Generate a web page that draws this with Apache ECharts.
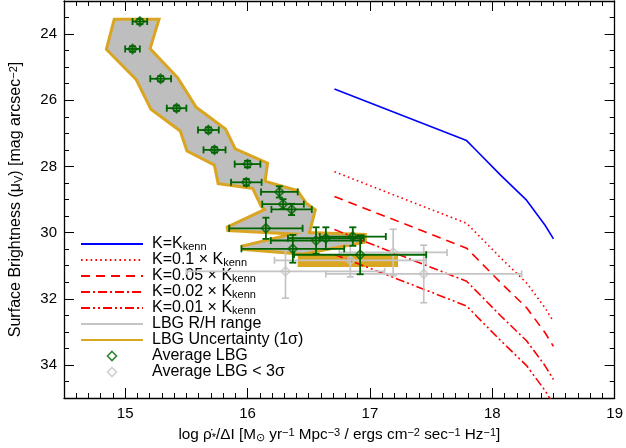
<!DOCTYPE html>
<html><head><meta charset="utf-8">
<script src="https://cdn.jsdelivr.net/npm/echarts@6/dist/echarts.min.js"></script>
<style>html,body{margin:0;padding:0;background:#fff}#c{width:626px;height:448px}</style>
</head><body><div id="c"></div>
<script>
// ---- model curves (K = star-formation efficiency) ----
const modelX = [16.71, 17.79, 17.87, 18.07, 18.28, 18.43, 18.50];
const kKenn  = [25.66, 27.22, 27.52, 28.27, 29.02, 29.77, 30.19];
const k010   = [28.16, 29.72, 30.02, 30.77, 31.52, 32.27, 32.69];
const k005   = [28.91, 30.47, 30.77, 31.52, 32.27, 33.02, 33.44];
const k002   = [29.91, 31.47, 31.77, 32.52, 33.27, 34.02, 34.44];
const k001   = [30.66, 32.22, 32.52, 33.27, 34.02, 34.77, 35.19];

// ---- Average LBG points ----
const lbgX    = [15.12, 15.06, 15.29, 15.42, 15.68, 15.73, 16.00, 15.99, 16.26, 16.29, 16.36, 16.15, 16.37, 16.56, 16.64, 16.86, 16.92];
const lbgY    = [23.62, 24.45, 25.35, 26.24, 26.90, 27.50, 27.93, 28.48, 28.77, 29.14, 29.30, 29.87, 30.49, 30.24, 30.17, 30.12, 30.67];
const lbgXErr = [0.06, 0.06, 0.085, 0.08, 0.085, 0.09, 0.105, 0.125, 0.15, 0.17, 0.165, 0.30, 0.42, 0.37, 0.31, 0.27, 0.54];
const lbgYErr = [0.08, 0.08, 0.08, 0.08, 0.08, 0.08, 0.1, 0.1, 0.17, 0.15, 0.17, 0.32, 0.42, 0.40, 0.33, 0.28, 0.59];

// ---- Average LBG < 3 sigma ----
const faintX    = [16.31, 17.44, 16.84, 17.19];
const faintY    = [31.17, 31.25, 30.84, 30.60];
const faintXErr = [0.81, 0.80, 0.62, 0.44];
const faintYErr = [0.81, 0.87, 0.50, 0.70];

// ---- LBG band (R/H range with 1 sigma uncertainty): left edge top->bottom, right edge top->bottom ----
const bandLeftY  = [23.60, 24.45, 25.35, 26.24, 26.90, 27.50, 27.93, 28.48, 28.62, 29.17, 29.32, 29.89, 30.01, 30.46, 30.61];
const bandLeftX  = [14.92, 14.86, 15.10, 15.22, 15.46, 15.515, 15.74, 15.77, 16.05, 16.12, 16.16, 15.83, 16.45, 15.95, 16.45];
const bandRightY = [23.60, 24.45, 25.35, 26.24, 26.90, 27.50, 27.93, 28.48, 28.77, 29.14, 29.33, 30.04, 30.10, 30.25];
const bandRightX = [15.26, 15.19, 15.42, 15.57, 15.81, 15.89, 16.15, 16.13, 16.40, 16.47, 16.54, 16.49, 16.95, 16.95];
const boxX = [16.41, 17.23];
const boxY = [30.67, 31.04];

const GREEN = '#006400', GRAYP = '#c4c4c4', ORANGE = '#daa520', BANDGRAY = '#bebebe';
const FONT = 'Liberation Sans, Arial, sans-serif';

const legendLabels = {
  'kk':  'K=K{s|kenn}',
  'k1':  'K=0.1 × K{s|kenn}',
  'k05': 'K=0.05 × K{s|kenn}',
  'k02': 'K=0.02 × K{s|kenn}',
  'k01': 'K=0.01 × K{s|kenn}',
  'rh':  'LBG R/H range',
  'unc': 'LBG Uncertainty (1σ)',
  'avg': 'Average LBG',
  'avg3':'Average LBG < 3σ'
};

function pairs(xs, ys) { return xs.map((x, i) => [x, ys[i]]); }

function bandPoints(api) {
  const pts = [];
  for (let i = 0; i < bandLeftY.length; i++) pts.push(api.coord([bandLeftX[i], bandLeftY[i]]));
  for (let i = bandRightY.length - 1; i >= 0; i--) pts.push(api.coord([bandRightX[i], bandRightY[i]]));
  return pts;
}

function errRender(color, cap, lw) {
  return function (params, api) {
    const x = api.value(0), y = api.value(1), ex = api.value(2), ey = api.value(3);
    const l = api.coord([x - ex, y]), r = api.coord([x + ex, y]);
    const t = api.coord([x, y - ey]), b = api.coord([x, y + ey]);
    const st = { stroke: color, lineWidth: lw };
    const ln = (x1, y1, x2, y2) => ({ type: 'line', shape: { x1, y1, x2, y2 }, style: st });
    return { type: 'group', children: [
      ln(l[0], l[1], r[0], r[1]),
      ln(l[0], l[1] - cap, l[0], l[1] + cap),
      ln(r[0], r[1] - cap, r[0], r[1] + cap),
      ln(t[0], t[1], b[0], b[1]),
      ln(t[0] - cap, t[1], t[0] + cap, t[1]),
      ln(b[0] - cap, b[1], b[0] + cap, b[1])
    ]};
  };
}

const chart = echarts.init(document.getElementById('c'), null, { renderer: 'canvas' });

const tickLabel = { fontFamily: FONT, fontSize: 15, color: '#000' };
const frameLine = { show: true, lineStyle: { color: '#000', width: 1.3 } };

function xAx(pos, minor, labels) {
  const a = { type: 'value', position: pos, min: 14.5, max: 19, gridIndex: 0,
    axisLine: minor ? { show: false } : frameLine,
    axisTick: { show: true, inside: true, length: minor ? 5 : 10, lineStyle: { color: '#000', width: 1 } },
    axisLabel: labels ? Object.assign({ show: true, margin: 8, showMinLabel: false }, tickLabel) : { show: false },
    splitLine: { show: false } };
  if (minor) a.interval = 0.1;
  return a;
}
function yAx(pos, minor, labels) {
  const a = { type: 'value', position: pos, min: 23, max: 35, inverse: true, gridIndex: 0,
    axisLine: minor ? { show: false } : frameLine,
    axisTick: { show: true, inside: true, length: minor ? 5 : 10, lineStyle: { color: '#000', width: 1 } },
    axisLabel: labels ? Object.assign({ show: true, margin: 7, showMinLabel: false, showMaxLabel: false }, tickLabel) : { show: false },
    splitLine: { show: false } };
  if (minor) a.interval = 0.5;
  return a;
}

const richTitle = { sub: { fontSize: 11, lineHeight: 8, verticalAlign: 'bottom' }, sup: { fontSize: 11, lineHeight: 8, verticalAlign: 'top' } };

const xAxes = [xAx('bottom', false, true), xAx('bottom', true, false), xAx('top', false, false), xAx('top', true, false)];
xAxes[0].name = 'log ρ̇{sub|*}/ΔI [M{sub|⊙} yr{sup|−1} Mpc{sup|−3} / ergs cm{sup|−2} sec{sup|−1} Hz{sup|−1}]';
xAxes[0].nameLocation = 'middle';
xAxes[0].nameGap = 29;
xAxes[0].nameTextStyle = { fontFamily: FONT, fontSize: 15.3, color: '#000', lineHeight: 16, rich: richTitle };

const yAxes = [yAx('left', false, true), yAx('left', true, false), yAx('right', false, false), yAx('right', true, false)];
yAxes[0].name = 'Surface Brightness (μ{sub|V}) [mag arcsec{sup|−2}]';
yAxes[0].nameLocation = 'middle';
yAxes[0].nameGap = 40;
yAxes[0].nameRotate = 90;
yAxes[0].nameTextStyle = { fontFamily: FONT, fontSize: 16, color: '#000', lineHeight: 16, rich: richTitle };

function modelSeries(name, ys, color, type, width) {
  return { name, type: 'line', data: pairs(modelX, ys), symbol: 'none', smooth: false, z: 4,
    lineStyle: { color, width, type, cap: 'butt' }, itemStyle: { color }, clip: true, silent: true };
}

const hideSym = { opacity: 0 };
const DIAMOND = 'path://M5,0L10,5L5,10L0,5Z';

const option = {
  animation: false,
  backgroundColor: '#fff',
  grid: { left: 56, right: 10, top: 1, bottom: 45, containLabel: false },
  xAxis: xAxes,
  yAxis: yAxes,
  legend: {
    orient: 'vertical', left: 80, top: 236, padding: 0, itemGap: 0,
    itemWidth: 62, itemHeight: 9, selectedMode: false, symbolKeepAspect: true,
    textStyle: { fontFamily: FONT, fontSize: 16, color: '#000', lineHeight: 16, padding: [0, 0, 0, 4],
      rich: { s: { fontSize: 11, lineHeight: 8, verticalAlign: 'bottom' } } },
    formatter: n => legendLabels[n],
    data: [
      { name: 'kk', itemStyle: hideSym }, { name: 'k1', itemStyle: hideSym }, { name: 'k05', itemStyle: hideSym },
      { name: 'k02', itemStyle: hideSym }, { name: 'k01', itemStyle: hideSym },
      { name: 'rh', icon: 'path://M0,0H62V2H0Z' },
      { name: 'unc', icon: 'path://M0,0H62V2H0Z' },
      { name: 'avg', icon: DIAMOND, itemStyle: { color: 'rgba(255,255,255,0)', borderColor: GREEN, borderWidth: 1.6 } },
      { name: 'avg3', icon: DIAMOND, itemStyle: { color: 'rgba(255,255,255,0)', borderColor: GRAYP, borderWidth: 1.6 } }
    ]
  },
  series: [
    { name: 'unc', type: 'custom', z: 1, clip: true, silent: true,
      itemStyle: { color: ORANGE },
      data: [[bandLeftX[0], bandLeftY[0]]],
      renderItem: function (params, api) {
        const pts = bandPoints(api);
        const b0 = api.coord([boxX[0], boxY[0]]), b1 = api.coord([boxX[1], boxY[1]]);
        return { type: 'group', children: [
          { type: 'polygon', shape: { points: pts }, style: { fill: ORANGE, stroke: ORANGE, lineWidth: 6, lineJoin: 'miter', miterLimit: 3 } },
          { type: 'rect', shape: { x: b0[0], y: b0[1], width: b1[0] - b0[0], height: b1[1] - b0[1] }, style: { fill: ORANGE } }
        ]};
      } },
    { name: 'rh', type: 'custom', z: 2, clip: true, silent: true,
      itemStyle: { color: GRAYP },
      data: [[bandLeftX[0], bandLeftY[0]]],
      renderItem: function (params, api) {
        return { type: 'polygon', shape: { points: bandPoints(api) }, style: { fill: BANDGRAY } };
      } },
    modelSeries('kk', kKenn, '#0000ff', 'solid', 1.6),
    modelSeries('k1', k010, '#ff0000', [1.6, 3.2], 1.6),
    modelSeries('k05', k005, '#ff0000', [9, 6], 1.6),
    modelSeries('k02', k002, '#ff0000', [9, 3, 2, 3], 1.6),
    modelSeries('k01', k001, '#ff0000', [9, 3, 2, 3, 2, 3], 1.6),
    { name: 'avg3err', type: 'custom', z: 5, clip: true, silent: true,
      data: faintX.map((x, i) => [x, faintY[i], faintXErr[i], faintYErr[i]]),
      renderItem: errRender(GRAYP, 3.5, 1.7) },
    { name: 'avg3', type: 'scatter', z: 6, symbol: 'diamond', symbolSize: 9,
      data: pairs(faintX, faintY), clip: true,
      itemStyle: { color: 'rgba(255,255,255,0)', borderColor: GRAYP, borderWidth: 1.6 } },
    { name: 'avgerr', type: 'custom', z: 7, clip: true, silent: true,
      data: lbgX.map((x, i) => [x, lbgY[i], lbgXErr[i], lbgYErr[i]]),
      renderItem: errRender(GREEN, 3.5, 1.8) },
    { name: 'avg', type: 'scatter', z: 8, symbol: 'diamond', symbolSize: 9,
      data: pairs(lbgX, lbgY), clip: true,
      itemStyle: { color: 'rgba(255,255,255,0)', borderColor: GREEN, borderWidth: 1.7 } }
  ]
};
chart.setOption(option);
</script></body></html>
